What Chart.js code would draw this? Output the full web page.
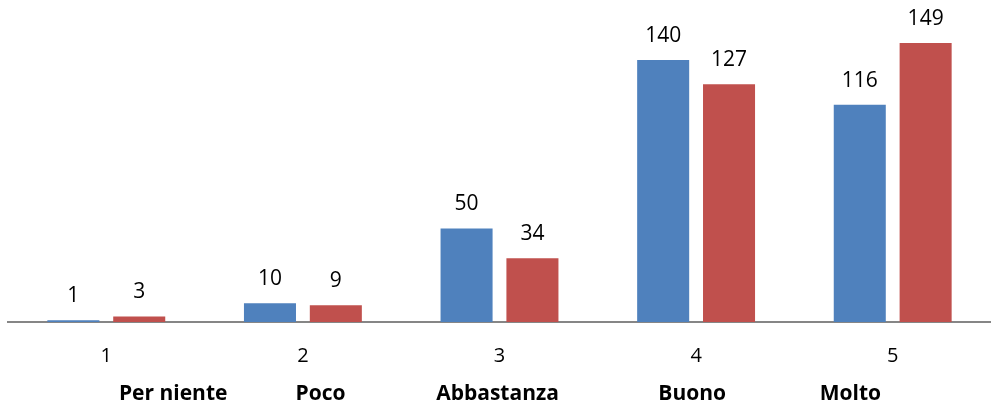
<!DOCTYPE html>
<html>
<head>
<meta charset="utf-8">
<script src="https://cdn.jsdelivr.net/npm/chart.js@4/dist/chart.umd.min.js"></script>
<style>
  html, body { margin:0; padding:0; background:#fff; }
  #wrap { width:991px; height:408px; }
</style>
</head>
<body>
<div id="wrap"><canvas id="chart" width="991" height="408"></canvas></div>
<script>
var categories = ['1', '2', '3', '4', '5'];
var seriesA = [1, 10, 50, 140, 116];
var seriesB = [3, 9, 34, 127, 149];
var ratingNames = ['Per niente', 'Poco', 'Abbastanza', 'Buono', 'Molto'];

// where the bold names sit, as a share of the plot width (they are not under the ticks)
var namePos = [0.168, 0.318, 0.498, 0.696, 0.857];

var FONT = "'Open Sans', 'Noto Sans', sans-serif";

// numbers over the bars
var valueLabels = {
    id: 'valueLabels',
    afterDatasetsDraw: function(chart) {
        var ctx = chart.ctx;
        ctx.save();
        ctx.font = '21px ' + FONT;
        ctx.fillStyle = '#000';
        ctx.textAlign = 'center';
        ctx.textBaseline = 'alphabetic';
        chart.data.datasets.forEach(function(ds, i) {
            chart.getDatasetMeta(i).data.forEach(function(bar, j) {
                ctx.fillText(ds.data[j], bar.x, bar.y - 18);
            });
        });
        ctx.restore();
    }
};

// bold rating names on their own row
var nameRow = {
    id: 'nameRow',
    afterDraw: function(chart) {
        var ctx = chart.ctx, area = chart.chartArea;
        ctx.save();
        ctx.font = 'bold 21px ' + FONT;
        ctx.fillStyle = '#000';
        ctx.textAlign = 'center';
        ctx.textBaseline = 'middle';
        ratingNames.forEach(function(n, i) {
            ctx.fillText(n, area.left + namePos[i] * (area.right - area.left), area.bottom + 72);
        });
        ctx.restore();
    }
};

var chart = new Chart(document.getElementById('chart'), {
    type: 'bar',
    data: {
        labels: categories,
        datasets: [{
            label: 'A',
            data: seriesA,
            backgroundColor: '#4F81BD',
            categoryPercentage: 0.67,
            barPercentage: 0.79
        }, {
            label: 'B',
            data: seriesB,
            backgroundColor: '#C0504D',
            categoryPercentage: 0.67,
            barPercentage: 0.79
        }]
    },
    options: {
        responsive: false,
        animation: false,
        layout: { padding: { left: 8, right: 0, top: 0, bottom: 26 } },
        plugins: {
            legend: { display: false },
            tooltip: { enabled: false }
        },
        scales: {
            x: {
                grid: { display: false },
                border: { display: true, color: '#868686', width: 2 },
                ticks: { color: '#000', font: { family: FONT, size: 20 }, padding: 14 }
            },
            y: {
                display: false,
                min: 0,
                max: 172
            }
        }
    },
    plugins: [valueLabels, nameRow]
});
</script>
</body>
</html>
